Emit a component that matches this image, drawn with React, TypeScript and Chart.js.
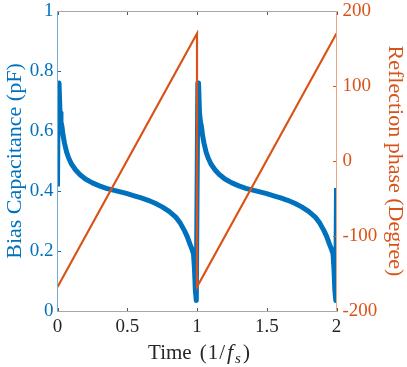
import React, { useEffect, useRef } from 'react';
import { Chart, registerables } from 'chart.js';

Chart.register(...registerables);

// Time axis (1/f_s)
const capTime = [
  0, 0.005, 0.011, 0.018, 0.025, 0.032, 0.04, 0.05, 0.065, 0.08, 0.1, 0.13, 0.16, 0.2, 0.25, 0.3, 0.35, 0.4,
  0.45, 0.5, 0.55, 0.6, 0.65, 0.7, 0.75, 0.8, 0.85, 0.88, 0.91, 0.93, 0.95, 0.965, 0.975, 0.982, 0.988, 0.995,
  1.006, 1.011, 1.018, 1.025, 1.032, 1.04, 1.05, 1.065, 1.08, 1.1, 1.13, 1.16, 1.2, 1.25, 1.3, 1.35, 1.4,
  1.45, 1.5, 1.55, 1.6, 1.65, 1.7, 1.75, 1.8, 1.85, 1.88, 1.91, 1.93, 1.95, 1.965, 1.975, 1.982, 1.988, 1.995, 2.0,
];
// Bias capacitance (pF)
const capValues = [
  0.415, 0.74, 0.76, 0.66, 0.63, 0.615, 0.585, 0.56, 0.53, 0.51, 0.49, 0.47, 0.455, 0.44, 0.427, 0.417, 0.409, 0.403,
  0.397, 0.391, 0.384, 0.377, 0.369, 0.359, 0.347, 0.332, 0.312, 0.293, 0.268, 0.248, 0.222, 0.205, 0.19, 0.14, 0.07, 0.035,
  0.76, 0.76, 0.66, 0.63, 0.615, 0.585, 0.56, 0.53, 0.51, 0.49, 0.47, 0.455, 0.44, 0.427, 0.417, 0.409, 0.403,
  0.397, 0.391, 0.384, 0.377, 0.369, 0.359, 0.347, 0.332, 0.312, 0.293, 0.268, 0.248, 0.222, 0.205, 0.19, 0.14, 0.07, 0.035, 0.41,
];
// Reflection phase (Degree)
const phaseTime = [0, 1, 1, 2];
const phaseValues = [-168, 170, -168, 170];

const xTicks = [0, 0.5, 1, 1.5, 2];
const xTickLabels = ['0', '0.5', '1', '1.5', '2'];
const capTicks = [0, 0.2, 0.4, 0.6, 0.8, 1];
const capTickLabels = ['0', '0.2', '0.4', '0.6', '0.8', '1'];
const phaseTicks = [-200, -100, 0, 100, 200];
const phaseTickLabels = ['-200', '-100', '0', '100', '200'];

const BLUE = '#0072BD';
const ORANGE = '#D95319';
const DARK = '#262626';
const FONT = "'Liberation Serif', 'Times New Roman', serif";

const zeroPad = (s: any) => {
  s.paddingLeft = 0;
  s.paddingRight = 0;
  s.paddingTop = 0;
  s.paddingBottom = 0;
};

const framePlugin = {
  id: 'frame',
  afterDatasetsDraw(chart: any) {
    const { ctx, chartArea, scales } = chart;
    const { left, right, top, bottom } = chartArea;
    const L = Math.floor(left) + 0.5;
    const R = Math.floor(right) + 0.5;
    const T = Math.floor(top) + 0.5;
    const B = Math.floor(bottom) + 0.5;
    const tl = 3.5;
    const line = (x1: number, y1: number, x2: number, y2: number) => {
      ctx.beginPath();
      ctx.moveTo(x1, y1);
      ctx.lineTo(x2, y2);
      ctx.stroke();
    };
    ctx.save();
    ctx.lineWidth = 1;
    // x ticks (inside, bottom and top)
    ctx.strokeStyle = '#5a5a5a';
    xTicks.forEach((v) => {
      const px = Math.round(scales.x.getPixelForValue(v)) + 0.5;
      line(px, B, px, B - tl);
      line(px, T, px, T + tl);
    });
    // left ticks
    ctx.strokeStyle = BLUE;
    capTicks.forEach((v) => {
      const py = Math.round(scales.y.getPixelForValue(v)) + 0.5;
      line(L, py, L + tl, py);
    });
    // right ticks
    ctx.strokeStyle = ORANGE;
    phaseTicks.forEach((v) => {
      const py = Math.round(scales.y1.getPixelForValue(v)) + 0.5;
      line(R, py, R - tl, py);
    });
    // box
    ctx.strokeStyle = '#a8a8a8';
    line(L, T, R, T);
    line(L, B, R, B);
    ctx.strokeStyle = '#76acd8';
    line(L, T, L, B);
    ctx.strokeStyle = '#eea584';
    line(R, T, R, B);

    // x axis title: Time (1/f_s)
    const parts = [
      { t: 'Time', f: `21px ${FONT}`, gap: 8, dy: 0 },
      { t: '(', f: `21px ${FONT}`, gap: 1, dy: 0 },
      { t: '1', f: `21px ${FONT}`, gap: 1, dy: 0 },
      { t: '/', f: `21px ${FONT}`, gap: 2, dy: 0 },
      { t: 'f', f: `italic 22px ${FONT}`, gap: 2, dy: 0 },
      { t: 's', f: `italic 15px ${FONT}`, gap: 2, dy: 4 },
      { t: ')', f: `21px ${FONT}`, gap: 0, dy: 0 },
    ];
    let total = 0;
    const widths = parts.map((p) => {
      ctx.font = p.f;
      const w = ctx.measureText(p.t).width;
      total += w + p.gap;
      return w;
    });
    let x = (left + right) / 2 + 2 - total / 2;
    const baseY = 359;
    ctx.fillStyle = DARK;
    ctx.textAlign = 'left';
    ctx.textBaseline = 'alphabetic';
    parts.forEach((p, i) => {
      ctx.font = p.f;
      ctx.fillText(p.t, x, baseY + p.dy);
      x += widths[i] + p.gap;
    });
    ctx.restore();
  },
};

export default function App() {
  const ref = useRef<HTMLCanvasElement | null>(null);

  useEffect(() => {
    document.body.style.margin = '0';
    const canvas = ref.current;
    if (!canvas) return;
    const chart = new Chart(canvas, {
      type: 'line',
      data: {
        datasets: [
          {
            label: 'Reflection phase',
            data: phaseTime.map((t, i) => ({ x: t, y: phaseValues[i] })),
            yAxisID: 'y1',
            borderColor: ORANGE,
            borderWidth: 2.2,
            pointRadius: 0,
            tension: 0,
            order: 0,
          },
          {
            label: 'Bias Capacitance',
            data: capTime.map((t, i) => ({ x: t, y: capValues[i] })),
            yAxisID: 'y',
            borderColor: BLUE,
            borderWidth: 5,
            borderJoinStyle: 'round',
            borderCapStyle: 'butt',
            pointRadius: 0,
            tension: 0,
            order: 1,
          },
        ],
      },
      options: {
        responsive: false,
        animation: false,
        events: [],
        layout: { padding: { top: 11, left: 0, right: 0, bottom: 0 } },
        plugins: { legend: { display: false }, tooltip: { enabled: false }, title: { display: false } },
        scales: {
          x: {
            type: 'linear',
            min: 0,
            max: 2,
            grid: { display: false, drawTicks: false },
            border: { display: false },
            afterBuildTicks: (s: any) => {
              s.ticks = xTicks.map((v) => ({ value: v }));
            },
            ticks: {
              autoSkip: false,
              maxRotation: 0,
              padding: 5,
              color: DARK,
              font: { family: FONT, size: 19 },
              callback: (_v: any, i: number) => xTickLabels[i],
            },
            afterFit: (s: any) => {
              s.height = 56;
              zeroPad(s);
            },
          },
          y: {
            type: 'linear',
            position: 'left',
            min: 0,
            max: 1,
            grid: { display: false, drawTicks: false },
            border: { display: false },
            afterBuildTicks: (s: any) => {
              s.ticks = capTicks.map((v) => ({ value: v }));
            },
            ticks: {
              autoSkip: false,
              padding: 4,
              color: BLUE,
              font: { family: FONT, size: 19 },
              callback: (_v: any, i: number) => capTickLabels[i],
            },
            title: {
              display: true,
              text: 'Bias Capacitance (pF)',
              color: BLUE,
              font: { family: FONT, size: 22, lineHeight: 1 },
              padding: { top: 4, bottom: 0 },
            },
            afterFit: (s: any) => {
              s.width = 57.5;
              zeroPad(s);
            },
          },
          y1: {
            type: 'linear',
            position: 'right',
            min: -200,
            max: 200,
            grid: { display: false, drawTicks: false },
            border: { display: false },
            afterBuildTicks: (s: any) => {
              s.ticks = phaseTicks.map((v) => ({ value: v }));
            },
            ticks: {
              autoSkip: false,
              padding: 6,
              color: ORANGE,
              font: { family: FONT, size: 19 },
              callback: (_v: any, i: number) => phaseTickLabels[i],
            },
            title: {
              display: true,
              text: 'Reflection phase (Degree)',
              color: ORANGE,
              font: { family: FONT, size: 22, lineHeight: 1 },
              padding: { top: 1, bottom: 0 },
            },
            afterFit: (s: any) => {
              s.width = 70.5;
              zeroPad(s);
            },
          },
        },
      } as any,
      plugins: [framePlugin],
    });
    return () => chart.destroy();
  }, []);

  return (
    <div style={{ width: 407, height: 367, background: '#ffffff' }}>
      <canvas ref={ref} width={407} height={367} style={{ display: 'block', width: 407, height: 367 }} />
    </div>
  );
}
